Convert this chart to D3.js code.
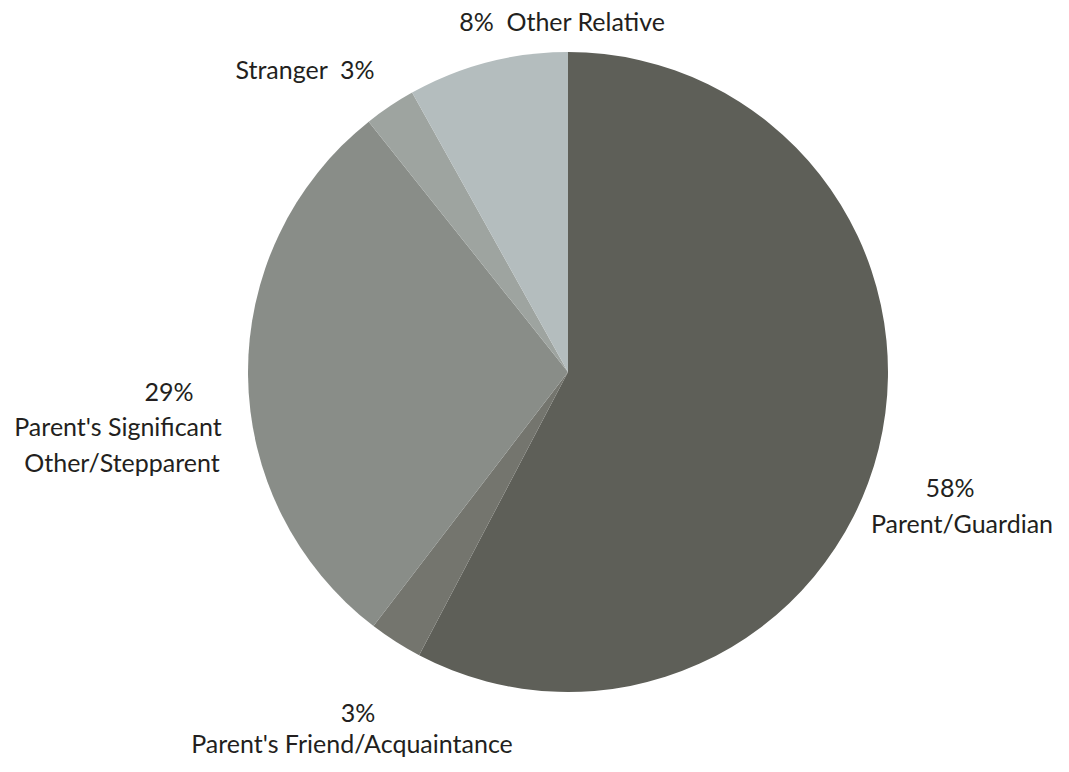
<!DOCTYPE html>
<html>
<head>
<meta charset="utf-8">
<script src="https://cdn.jsdelivr.net/npm/d3@7"></script>
<style>
  body { margin: 0; background: #fff; }
  text { font-family: "Lato", "Open Sans", sans-serif; font-size: 25px; fill: #231f20; }
</style>
</head>
<body>
<div id="chart"></div>
<script>
//Width and height
var w = 1069;
var h = 772;

//Slices, clockwise from 12 o'clock
var categories = ["Parent/Guardian", "Parent's Friend/Acquaintance", "Parent's Significant Other/Stepparent", "Stranger", "Other Relative"];
var shares = [57.7, 2.7, 28.9, 2.6, 8.1];
var pctLabels = ["58%", "3%", "29%", "3%", "8%"];
var colors = ["#5e5f58", "#74756e", "#898d88", "#9ea4a0", "#b4bdbe"];

//Label text lines for each slice
var labelLines = [
  ["58%", "Parent/Guardian"],
  ["3%", "Parent's Friend/Acquaintance"],
  ["29%", "Parent's Significant", "Other/Stepparent"],
  ["Stranger  3%"],
  ["8%  Other Relative"]
];

var cx = 568, cy = 372, radius = 320;

//Where each label line sits, relative to the pie centre (centre x, baseline y)
var labelPos = [
  [[382, 125], [394, 161]],
  [[-210, 350], [-216, 381]],
  [[-399, 29], [-450, 64], [-446, 100]],
  [[-263, -293]],
  [[-6, -341]]
];

var svg = d3.select("#chart")
  .append("svg")
  .attr("width", w)
  .attr("height", h);

var pie = d3.pie().sort(null).value(function(d){ return d; });
var arcs = pie(shares);

var arc = d3.arc().innerRadius(0).outerRadius(radius);

var g = svg.append("g")
  .attr("transform", "translate(" + cx + "," + cy + ")");

g.selectAll("path")
  .data(arcs)
  .enter()
  .append("path")
  .attr("d", arc)
  .attr("fill", function(d, i){ return colors[i]; });

//Labels
arcs.forEach(function(d, i){
  var t = g.append("text")
    .attr("class", "label")
    .attr("text-anchor", "middle");
  labelLines[i].forEach(function(line, j){
    t.append("tspan")
      .attr("x", labelPos[i][j][0])
      .attr("y", labelPos[i][j][1])
      .style("white-space", "pre")
      .text(line);
  });
});
</script>
</body>
</html>
